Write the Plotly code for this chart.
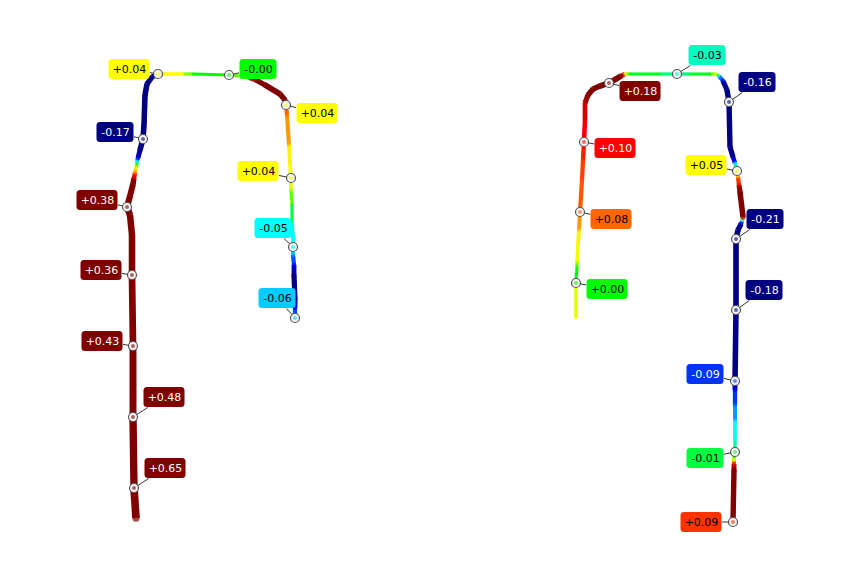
import plotly.graph_objects as go

# ---------------- data ----------------
# Route A (left): path vertices (x, y in pixel-like units) and the value shown by the line colour
route_a_x = [136, 134, 133, 133, 132, 132, 130, 127, 130, 133, 134, 135, 136, 137, 137, 138, 140, 143, 144, 145, 147, 152, 155, 158,
             183, 193, 229, 240, 250, 256, 265, 280, 285, 286, 287, 289, 290, 291, 291, 292, 292, 293, 293, 293, 294, 294, 295, 295, 295]
route_a_y = [518, 488, 417, 346, 275, 235, 215, 207, 196, 184, 178, 173, 168, 164, 161, 158, 150, 139, 125, 95, 84, 77, 75.5, 74,
             74, 74, 75, 76, 78, 80, 85, 94, 100, 105, 115, 145, 165, 178, 190, 205, 222, 235, 247, 255, 265, 275, 300, 308, 318]
route_a_v = [0.65, 0.62, 0.52, 0.45, 0.40, 0.38, 0.38, 0.36, 0.30, 0.20, 0.12, 0.08, 0.04, 0.0, -0.05, -0.10, -0.17, -0.17, -0.17, -0.17, -0.17, -0.15, -0.12, 0.04,
             0.04, 0.0, 0.0, 0.03, 0.10, 0.14, 0.18, 0.18, 0.16, 0.08, 0.08, 0.06, 0.045, 0.04, 0.03, 0.0, -0.02, -0.05, -0.05, -0.07, -0.10, -0.15, -0.15, -0.10, -0.07]

# Route B (right)
route_b_x = [576, 576, 576, 577, 577, 578, 579, 580, 582, 583, 584, 585, 585, 588, 593, 600, 609, 616, 621, 625, 630, 660, 677, 690, 710, 716,
             719, 723, 727, 729, 730, 733, 735, 736, 737, 738, 739, 740, 743, 742, 741, 738, 736, 736, 735, 735, 735, 735, 735, 735, 734, 734, 734, 734, 733]
route_b_y = [318, 283, 278, 268, 262, 245, 230, 212, 180, 160, 142, 120, 103, 95, 89, 86, 83, 79, 76, 74, 74, 74, 74, 74, 74, 74,
             76, 81, 90, 102, 147, 157, 163, 167, 171, 177, 185, 192, 217, 221, 224, 230, 239, 310, 381, 390, 405, 420, 440, 452, 457, 460, 464, 470, 522]
route_b_v = [0.04, 0.03, 0.0, 0.0, 0.03, 0.045, 0.06, 0.08, 0.085, 0.09, 0.10, 0.11, 0.12, 0.16, 0.18, 0.18, 0.18, 0.18, 0.16, 0.04, 0.0, -0.01, -0.03, -0.01, 0.0, 0.04,
             -0.04, -0.12, -0.16, -0.16, -0.16, -0.14, -0.06, 0.0, 0.04, 0.07, 0.11, 0.17, 0.17, -0.05, -0.12, -0.17, -0.20, -0.18, -0.16, -0.10, -0.08, -0.06, -0.04, -0.01, 0.0, 0.04, 0.10, 0.16, 0.16]

# Nodes and their values
node_x = [158, 229, 286, 291, 293, 295, 143, 127, 132, 133, 133, 134,
          609, 677, 729, 584, 737, 580, 576, 736, 736, 735, 735, 733]
node_y = [74, 75, 105, 178, 247, 318, 139, 207, 275, 346, 417, 488,
          83, 74, 102, 142, 171, 212, 283, 239, 310, 381, 452, 522]
node_value = [0.04, -0.0, 0.04, 0.04, -0.05, -0.06, -0.17, 0.38, 0.36, 0.43, 0.48, 0.65,
              0.18, -0.03, -0.16, 0.10, 0.05, 0.08, 0.00, -0.21, -0.18, -0.09, -0.01, 0.09]

# Label box centres (layout)
label_x = [129, 258, 317, 258, 273, 277, 115, 97, 101, 102, 164, 165,
           640, 707, 757, 615, 706, 611, 607, 765, 764, 705, 705, 701]
label_y = [69, 69, 113, 171, 228, 298, 132, 200, 270, 341, 397, 468,
           91, 55, 82, 148, 165, 219, 289, 219, 290, 374, 458, 522]

# ---------------- styling ----------------
stops = [(-0.15, (0, 0, 128)), (-0.10, (0, 0, 255)), (-0.05, (0, 255, 255)), (-0.04, (0, 255, 255)),
         (0.0, (0, 255, 0)), (0.04, (255, 255, 0)), (0.05, (255, 255, 0)), (0.10, (255, 0, 0)),
         (0.15, (128, 0, 0))]


def rgb_of(v):
    if v <= stops[0][0]:
        return stops[0][1]
    if v >= stops[-1][0]:
        return stops[-1][1]
    for (a, ca), (b, cb) in zip(stops[:-1], stops[1:]):
        if a <= v <= b:
            t = (v - a) / (b - a) if b > a else 0
            return tuple(round(ca[i] + t * (cb[i] - ca[i])) for i in range(3))
    return stops[-1][1]


def css(c, alpha=None):
    if alpha is None:
        return "rgb(%d,%d,%d)" % c
    return "rgba(%d,%d,%d,%.2f)" % (c[0], c[1], c[2], alpha)


def width_of(v):
    a = abs(v)
    if a <= 0.17:
        return 3 + 15 * a
    return 3 + 15 * 0.17 + 4.5 * (a - 0.17)


fig = go.Figure()

for xs, ys, vs in [(route_a_x, route_a_y, route_a_v), (route_b_x, route_b_y, route_b_v)]:
    for i in range(len(xs) - 1):
        v = (vs[i] + vs[i + 1]) / 2
        fig.add_trace(go.Scatter(
            x=[xs[i], xs[i + 1]], y=[ys[i], ys[i + 1]], mode="lines",
            line=dict(color=css(rgb_of(v)), width=width_of(v)),
            hoverinfo="skip", showlegend=False))
    # round joins and round ends
    fig.add_trace(go.Scatter(
        x=xs, y=ys, mode="markers",
        marker=dict(size=[width_of(v) * 0.95 for v in vs], color=[css(rgb_of(v)) for v in vs], line=dict(width=0)),
        hoverinfo="skip", showlegend=False))

node_colors = [css(rgb_of(v), 0.6) for v in node_value]
fig.add_trace(go.Scatter(
    x=node_x, y=node_y, mode="markers",
    marker=dict(size=9, color="rgb(244,244,244)", line=dict(color="#555555", width=1.2)),
    hoverinfo="skip", showlegend=False))
fig.add_trace(go.Scatter(
    x=node_x, y=node_y, mode="markers",
    marker=dict(size=4, color=node_colors, line=dict(width=0)),
    hoverinfo="skip", showlegend=False))

shapes = []
annotations = []
for nx, ny, v, lx, ly in zip(node_x, node_y, node_value, label_x, label_y):
    txt = format(v, "+.2f")
    c = rgb_of(v)
    lum = 0.299 * c[0] + 0.587 * c[1] + 0.114 * c[2]
    tcol = "white" if lum < 90 else "black"
    w = 41 if txt.startswith("+") else 37
    h = 20
    x0, x1, y0, y1 = lx - w / 2, lx + w / 2, ly - h / 2, ly + h / 2
    r = 3.5
    path = (f"M {x0 + r},{y0} L {x1 - r},{y0} Q {x1},{y0} {x1},{y0 + r} L {x1},{y1 - r} "
            f"Q {x1},{y1} {x1 - r},{y1} L {x0 + r},{y1} Q {x0},{y1} {x0},{y1 - r} "
            f"L {x0},{y0 + r} Q {x0},{y0} {x0 + r},{y0} Z")
    shapes.append(dict(type="path", path=path, xref="x", yref="y", fillcolor=css(c),
                       line=dict(width=0), layer="above"))
    annotations.append(dict(
        x=nx, y=ny, ax=lx, ay=ly, xref="x", yref="y", axref="x", ayref="y",
        text=txt, showarrow=True, arrowhead=0, arrowwidth=1, arrowcolor="#333333",
        standoff=4.5, width=w - 6, height=h - 6, borderpad=3,
        font=dict(family="DejaVu Sans, Verdana, sans-serif", size=11, color=tcol)))

# the page body has an 8px margin, so the axis ranges start at 8 to keep units == screen pixels
fig.update_layout(
    width=862, height=582, margin=dict(l=0, r=0, t=0, b=0),
    paper_bgcolor="white", plot_bgcolor="white",
    xaxis=dict(range=[8, 870], visible=False, fixedrange=True),
    yaxis=dict(range=[590, 8], visible=False, fixedrange=True),
    shapes=shapes, annotations=annotations, showlegend=False)

fig.write_html("out.html")
